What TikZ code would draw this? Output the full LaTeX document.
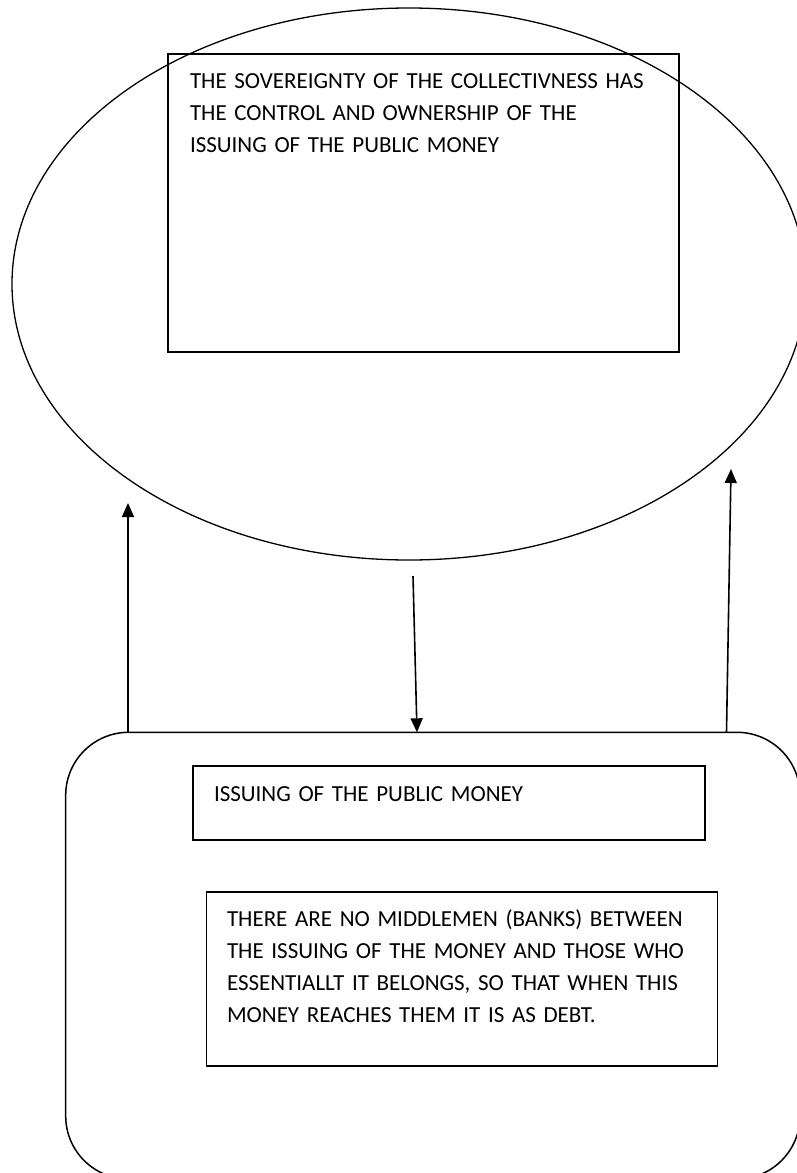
\documentclass[tikz,border=0pt]{standalone}
\usepackage{fontspec}
\setmainfont{Carlito}
\usetikzlibrary{positioning,arrows.meta,shapes.geometric}

\tikzset{
  textbox/.style={draw, line width=1.6pt, align=left, anchor=north west, inner ysep=0pt, outer sep=0pt, font=\fontsize{23}{32}\selectfont},
  arr/.style={line width=1.6pt, -{Triangle[length=14pt,width=12pt]}},
}

\begin{document}
\begin{tikzpicture}[x=1pt,y=-1pt]
\clip (0,0) rectangle (797,1173);
% sovereignty ellipse and its box
\node[draw, ellipse, line width=1.3pt, inner sep=0pt, outer sep=0pt, minimum width=794pt, minimum height=552pt] (outer) at (409,284) {};
\node[textbox, inner xsep=22pt, text width=467pt, text height=34.5pt, text depth=263.5pt] (sov) at (168,54)
  {THE SOVEREIGNTY OF THE COLLECTIVNESS HAS\\ THE CONTROL AND OWNERSHIP OF THE\\ ISSUING OF THE PUBLIC MONEY};

% rounded base with the two inner boxes
\node[draw, rounded corners=63pt, line width=1.5pt, anchor=north west, outer sep=0pt, minimum width=734.3pt, minimum height=446.7pt] (base) at (65.7,732.3) {};
\node[textbox, inner xsep=21pt, text width=470pt, text height=35.4pt, text depth=38.6pt] (issue) at (193,766)
  {ISSUING OF THE PUBLIC MONEY};
\node[textbox, inner xsep=20.5pt, text width=470pt, text height=34.9pt, text depth=139.4pt] (nomid) at (206.5,891.7)
  {THERE ARE NO MIDDLEMEN (BANKS) BETWEEN\\ THE ISSUING OF THE MONEY AND THOSE WHO\\ ESSENTIALLT IT BELONGS, SO THAT WHEN THIS\\ MONEY REACHES THEM IT IS AS DEBT.};

% arrows
\coordinate (tipL) at (128,503);
\coordinate (midtop) at (413,576);
\coordinate (midfoot) at (417,0);
\coordinate (tipR) at (731,469);
\coordinate (footR) at (726.5,0);
\draw[arr] (base.north -| tipL) -- (tipL);
\draw[arr] (midtop) -- (base.north -| midfoot);
\draw[arr] (base.north -| footR) -- (tipR);
\end{tikzpicture}
\end{document}
